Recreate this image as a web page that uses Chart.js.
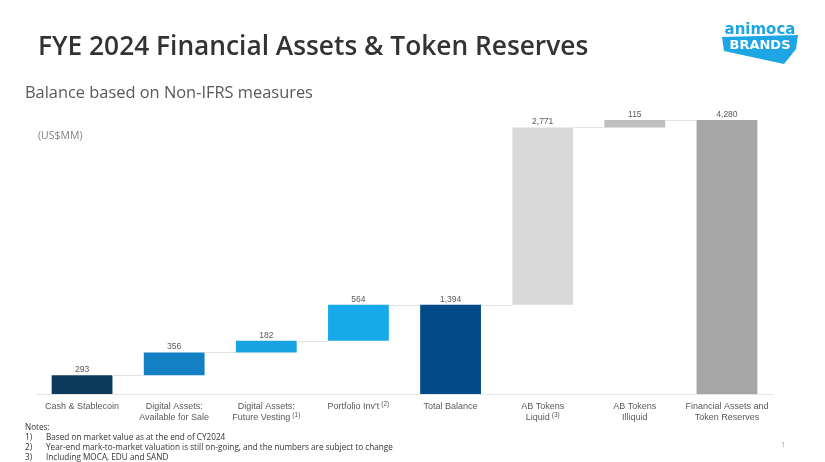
<!DOCTYPE html>
<html>
<head>
<meta charset="utf-8">
<script src="https://cdn.jsdelivr.net/npm/chart.js@4"></script>
<style>
  body { margin: 0; background: #fff; }
  #wrap { position: relative; width: 825px; height: 462px; overflow: hidden; }
  #wrap canvas { position: absolute; left: 0; top: 0; }
  .txt { position: absolute; white-space: nowrap; pointer-events: none; }
  #title { left: 38px; top: 27px; font: 600 26.3px "Open Sans", sans-serif; color: #333; }
  #subtitle { left: 25px; top: 80px; font: 400 16.4px "Open Sans", sans-serif; color: #595959; }
  #unit { left: 38px; top: 128px; font: 400 10.5px "Open Sans", sans-serif; color: #7f7f7f; }
  #notes { left: 25px; top: 422px; font: 400 8.2px/10px "Open Sans", sans-serif; color: #333; }
  #notes span { display: inline-block; width: 21px; }
  #page { left: 781px; top: 438px; font: 400 8px "Open Sans", sans-serif; color: #aaa; }
  #logo { position: absolute; left: 716px; top: 18px; }
</style>
</head>
<body>
<div id="wrap">
  <canvas id="wf"></canvas>
  <div class="txt" id="title">FYE 2024 Financial Assets &amp; Token Reserves</div>
  <div class="txt" id="subtitle">Balance based on Non-IFRS measures</div>
  <div class="txt" id="unit">(US$MM)</div>
  <div class="txt" id="notes">Notes:<br><span>1)</span>Based on market value as at the end of CY2024<br><span>2)</span>Year-end mark-to-market valuation is still on-going, and the numbers are subject to change<br><span>3)</span>Including MOCA, EDU and SAND</div>
  <div class="txt" id="page">1</div>
  <svg id="logo" width="90" height="48" viewBox="0 0 90 48">
    <polygon points="6,19 82,17 80,31 68,46 8,33" fill="#1ea5e4"/>
    <text x="44" y="16" text-anchor="middle" font-family="DejaVu Sans" font-weight="bold" font-size="15" fill="#1ea5e4">animoca</text>
    <text x="44" y="31" text-anchor="middle" font-family="DejaVu Sans" font-weight="bold" font-size="13" fill="#fff">BRANDS</text>
  </svg>
</div>
<script>
const categories = [
  'Cash & Stablecoin',
  ['Digital Assets:', 'Available for Sale'],
  ['Digital Assets:', 'Future Vesting'],
  'Portfolio Inv\'t',
  'Total Balance',
  ['AB Tokens', 'Liquid'],
  ['AB Tokens', 'Illiquid'],
  ['Financial Assets and', 'Token Reserves']
];
const footnotes = [null, null, '(1)', '(2)', null, '(3)', null, null];
const values = [293, 356, 182, 564, 1394, 2771, 115, 4280];
const isTotal = [false, false, false, false, true, false, false, true];
const barColors = ['#0b3a5b', '#1380c4', '#17a3e2', '#17a9e9', '#004a87', '#d9d9d9', '#bfbfbf', '#a6a6a6'];

// running sum -> floating [start, end] pairs
let running = 0;
const floats = values.map((v, i) => {
  if (isTotal[i]) { running = v; return [0, v]; }
  const start = running;
  running += v;
  return [start, running];
});

const FONT = '"Liberation Sans", Arial, sans-serif';

const waterfallExtras = {
  id: 'waterfallExtras',
  afterDatasetsDraw(chart) {
    const ctx = chart.ctx;
    const meta = chart.getDatasetMeta(0);
    const y = chart.scales.y;
    const x = chart.scales.x;
    ctx.save();
    // connectors
    ctx.strokeStyle = '#e3e3e3';
    ctx.lineWidth = 1;
    for (let i = 0; i < meta.data.length - 1; i++) {
      const a = meta.data[i], b = meta.data[i + 1];
      const py = Math.round(y.getPixelForValue(floats[i][1])) + 0.5;
      ctx.beginPath();
      ctx.moveTo(a.x + a.width / 2, py);
      ctx.lineTo(b.x - b.width / 2, py);
      ctx.stroke();
    }
    // value labels
    ctx.fillStyle = '#595959';
    ctx.font = '8.5px ' + FONT;
    ctx.textAlign = 'center';
    ctx.textBaseline = 'alphabetic';
    meta.data.forEach((bar, i) => {
      const py = y.getPixelForValue(floats[i][1]);
      ctx.fillText(values[i].toLocaleString('en-US'), bar.x, py - 3);
    });
    // category labels with superscript footnotes
    ctx.textAlign = 'left';
    categories.forEach((lab, i) => {
      const lines = Array.isArray(lab) ? lab : [lab];
      const cx = x.getPixelForValue(i);
      lines.forEach((line, j) => {
        const base = x.top + 15 + j * 11;
        ctx.font = '9px ' + FONT;
        const w = ctx.measureText(line).width;
        let sw = 0;
        const sup = (j === lines.length - 1) ? footnotes[i] : null;
        if (sup) {
          ctx.font = '6.5px ' + FONT;
          sw = ctx.measureText(sup).width + 2;
        }
        const left = cx - (w + sw) / 2;
        ctx.font = '9px ' + FONT;
        ctx.fillText(line, left, base);
        if (sup) {
          ctx.font = '6.5px ' + FONT;
          ctx.fillText(sup, left + w + 2, base - 3);
        }
      });
    });
    ctx.restore();
  }
};

new Chart(document.getElementById('wf'), {
  type: 'bar',
  data: {
    labels: categories,
    datasets: [{
      data: floats,
      backgroundColor: barColors,
      borderWidth: 0,
      categoryPercentage: 1,
      barPercentage: 0.66
    }]
  },
  options: {
    responsive: true,
    maintainAspectRatio: false,
    animation: false,
    layout: { padding: { left: 36, right: 52, top: 106, bottom: 28 } },
    scales: {
      x: {
        grid: { display: false, drawTicks: false },
        border: { display: true, color: '#e6e6e6' },
        afterFit: (axis) => { axis.height = 40; },
        ticks: { display: false }
      },
      y: { display: false, min: 0, max: 4500 }
    },
    plugins: {
      legend: { display: false },
      tooltip: { enabled: false }
    }
  },
  plugins: [waterfallExtras]
});
</script>
</body>
</html>
